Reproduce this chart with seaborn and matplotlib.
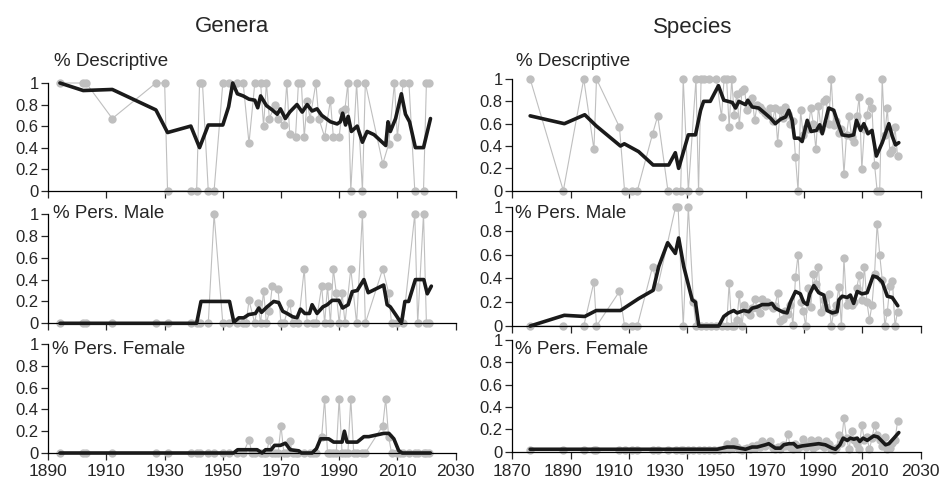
import numpy as np
import matplotlib
matplotlib.use("Agg")
import matplotlib.pyplot as plt
import seaborn as sns

# ---- Genera: % Descriptive ----
gen_desc_years = [1894, 1902, 1903, 1912, 1927, 1930, 1931, 1939, 1941, 1942, 1943, 1945, 1947,
                  1950, 1952, 1955, 1957, 1959, 1961, 1963, 1964, 1965, 1966, 1968, 1969, 1971,
                  1972, 1973, 1975, 1976, 1977, 1978, 1979, 1980, 1982, 1983, 1985, 1987, 1988,
                  1990, 1991, 1992, 1993, 1994, 1996, 1998, 1999, 2005, 2007, 2009, 2010, 2012,
                  2014, 2016, 2019, 2020, 2021]
gen_desc_vals = [1, 1, 1, 0.67, 1, 1, 0, 0, 0, 1, 1, 0, 0,
                 1, 1, 1, 1, 0.44, 1, 1, 0.6, 1, 0.67, 0.8, 0.67, 0.61,
                 1, 0.53, 0.5, 1, 1, 0.5, 0.83, 0.67, 1, 0.67, 0.5, 0.84, 0.5,
                 0.5, 0.74, 0.76, 1, 0, 1, 0, 1, 0.25, 0.43, 1, 0.5, 1,
                 1, 0, 0, 1, 1]
gen_desc_avg_years = [1894, 1902, 1912, 1927, 1931, 1939, 1942, 1945, 1950, 1952, 1953.4, 1955,
                      1957, 1959, 1961, 1962, 1963, 1965, 1967, 1968.7, 1969.8, 1971.5, 1973,
                      1975.5, 1977.3, 1979, 1980.7, 1982.4, 1984, 1987, 1989.3, 1990.4, 1991.2,
                      1992.2, 1993.1, 1994.2, 1996.2, 1998, 1999.6, 2002, 2006, 2006.8, 2007.6,
                      2009.4, 2011.4, 2012.8, 2014.2, 2016.2, 2019, 2021.4]
gen_desc_avg = [1.0, 0.93, 0.94, 0.75, 0.54, 0.6, 0.4, 0.61, 0.61, 0.78, 1.0, 0.9,
                0.88, 0.85, 0.84, 0.77, 0.88, 0.79, 0.75, 0.71, 0.76, 0.67, 0.73,
                0.8, 0.73, 0.8, 0.74, 0.76, 0.7, 0.64, 0.62, 0.64, 0.72,
                0.61, 0.69, 0.55, 0.6, 0.45, 0.55, 0.52, 0.42, 0.64, 0.55,
                0.67, 0.9, 0.71, 0.64, 0.4, 0.4, 0.67]

# ---- Genera: % Pers. Male ----
gen_male_years = [1894, 1902, 1903, 1912, 1927, 1931, 1939, 1941, 1942, 1945, 1947, 1950, 1952,
                  1955, 1957, 1958, 1959, 1961, 1962, 1963, 1964, 1965, 1966, 1967, 1969, 1970,
                  1971, 1973, 1974, 1976, 1978, 1979, 1981, 1982, 1984, 1985, 1986, 1987, 1988,
                  1989, 1990, 1991, 1992, 1994, 1996, 1998, 1999, 2005, 2007, 2008, 2010, 2012,
                  2016, 2017, 2019, 2020, 2021]
gen_male_vals = [0, 0, 0, 0, 0, 0, 0, 0, 0, 0, 1, 0, 0,
                 0, 0, 0, 0.21, 0, 0.19, 0, 0.3, 0, 0.11, 0.34, 0.31, 0,
                 0, 0.19, 0, 0, 0.5, 0, 0, 0, 0.34, 0, 0.34, 0, 0.5,
                 0.28, 0, 0.28, 0, 0.5, 0, 1, 0, 0.5, 0.28, 0, 0, 0,
                 1, 0, 1, 0, 0]
gen_male_avg_years = [1894, 1941, 1942.5, 1952.3, 1953.8, 1955.5, 1957.2, 1958.9, 1961.2, 1962.4,
                      1963.3, 1965.2, 1967.5, 1969.2, 1970.6, 1972.1, 1974, 1975.5, 1976.7,
                      1978.2, 1979.8, 1980.7, 1982.4, 1984.4, 1985.9, 1987.6, 1989.9, 1991.2,
                      1993.1, 1994.5, 1996.2, 1998.5, 2000, 2005.3, 2006.5, 2007.6, 2009.4,
                      2011.4, 2012.6, 2013.9, 2016.2, 2019.1, 2020.3, 2021.7]
gen_male_avg = [0, 0, 0.2, 0.2, 0.01, 0.05, 0.05, 0.08, 0.09, 0.14,
                0.1, 0.15, 0.2, 0.19, 0.11, 0.09, 0.06, 0.05, 0.13,
                0.09, 0.09, 0.17, 0.09, 0.15, 0.17, 0.21, 0.21, 0.14,
                0.17, 0.29, 0.3, 0.4, 0.28, 0.35, 0.17, 0.15, 0.08,
                0.0, 0.2, 0.2, 0.4, 0.4, 0.27, 0.34]

# ---- Genera: % Pers. Female ----
gen_fem_years = [1894, 1902, 1903, 1912, 1927, 1931, 1939, 1941, 1942, 1945, 1947, 1950, 1952,
                 1955, 1957, 1959, 1960, 1961, 1963, 1964, 1965, 1966, 1967, 1968, 1969, 1970,
                 1971, 1972, 1973, 1974, 1975, 1976, 1978, 1980, 1981, 1982, 1984, 1985, 1986,
                 1987, 1988, 1989, 1990, 1991, 1992, 1993, 1994, 1995, 1996, 1998, 1999, 2005,
                 2006, 2007, 2008, 2010, 2011, 2012, 2014, 2016, 2017, 2019, 2020, 2021]
gen_fem_vals = [0, 0, 0, 0, 0, 0, 0, 0, 0, 0, 0, 0, 0,
                0, 0, 0.12, 0, 0, 0, 0, 0, 0.12, 0, 0, 0, 0.25,
                0, 0, 0.11, 0, 0, 0, 0, 0, 0, 0, 0.15, 0.5, 0,
                0, 0, 0, 0.5, 0, 0, 0, 0.5, 0, 0, 0, 0, 0.25,
                0.5, 0.15, 0, 0, 0, 0, 0, 0, 0, 0, 0, 0]
gen_fem_avg_years = [1894, 1953.7, 1955.1, 1958.9, 1961.8, 1963.5, 1964.7, 1966.6, 1967.8, 1969.8,
                     1971.5, 1973.2, 1976.1, 1977, 1980.7, 1982.2, 1983.6, 1986.4, 1988.1, 1991,
                     1991.8, 1992.7, 1996.2, 1998.5, 2000.2, 2005.3, 2007.1, 2008.8, 2010.5,
                     2011.7, 2021.4]
gen_fem_avg = [0, 0, 0.03, 0.03, 0.03, 0, 0.03, 0.03, 0.07, 0.07,
               0.09, 0.03, 0.02, 0, 0, 0.04, 0.13, 0.13, 0.1, 0.1,
               0.2, 0.1, 0.1, 0.15, 0.15, 0.18, 0.18, 0.13, 0.02,
               0, 0]

# ---- Species: % Descriptive ----
sp_desc_years = [1877, 1890, 1898, 1902, 1903, 1912, 1914, 1917, 1919, 1925, 1927, 1931, 1934,
                 1936, 1937, 1939, 1942, 1943, 1944, 1945, 1947, 1950, 1952, 1953, 1954, 1955,
                 1956, 1957, 1958, 1959, 1960, 1961, 1962, 1963, 1964, 1965, 1966, 1967, 1968,
                 1969, 1970, 1971, 1972, 1973, 1974, 1975, 1976, 1977, 1978, 1979, 1980, 1981,
                 1982, 1983, 1984, 1985, 1986, 1987, 1988, 1989, 1990, 1991, 1992, 1993, 1994,
                 1995, 1996, 1997, 1998, 1999, 2000, 2001, 2002, 2003, 2004, 2005, 2006, 2007,
                 2008, 2009, 2010, 2011, 2012, 2013, 2014, 2015, 2016, 2017, 2018, 2019, 2020,
                 2021]
sp_desc_vals = [1, 0, 1, 0.37, 1, 0.57, 0, 0, 0, 0.51, 0.67, 0, 0,
                0, 1, 0, 1, 0, 1, 1, 1, 1, 0.66, 1, 1, 0.57,
                1, 0.68, 0.87, 0.59, 0.89, 0.91, 0.72, 0.79, 0.83, 0.63, 0.77, 0.75, 0.72,
                0.7, 0.68, 0.74, 0.62, 0.74, 0.43, 0.72, 0.65, 0.75, 0.69, 0.6, 0.62, 0.3,
                0, 0.72, 0.5, 0.56, 0.55, 0.74, 0.6, 0.37, 0.76, 0.55, 0.8, 0.82, 0.6,
                1, 0.59, 0.62, 0.52, 0.55, 0.15, 0.5, 0.67, 0.48, 0.44, 0.67, 0.84, 0.19,
                0.55, 0.68, 0.8, 0.74, 0.23, 0, 0, 1, 0.5, 0.74, 0.34, 0.36, 0.57,
                0.31]
sp_desc_avg_years = [1877, 1890.4, 1898.4, 1902.9, 1912.4, 1913.9, 1919.5, 1925.2, 1931.3, 1933.9,
                     1935.2, 1939, 1941.8, 1943.8, 1945, 1947.6, 1950.8, 1952.9, 1956.2, 1957.5,
                     1958.8, 1961.4, 1962.3, 1964, 1966.6, 1969.2, 1971.2, 1973.1, 1975.1,
                     1977.1, 1978.4, 1979.7, 1980.6, 1982.3, 1983.6, 1985.6, 1987.1, 1989.2,
                     1990.5, 1991.5, 1994, 1996, 1997.3, 1999.3, 2001.9, 2003.8, 2004.9, 2006.5,
                     2007.8, 2009.4, 2011, 2012.7, 2015, 2017.6, 2018.9, 2020.2, 2021.5]
sp_desc_avg = [0.67, 0.6, 0.68, 0.58, 0.4, 0.42, 0.35, 0.23, 0.23, 0.34,
               0.2, 0.5, 0.5, 0.72, 0.8, 0.8, 0.94, 0.81, 0.79, 0.74,
               0.8, 0.77, 0.81, 0.75, 0.74, 0.69, 0.65, 0.6, 0.64,
               0.66, 0.72, 0.63, 0.47, 0.47, 0.44, 0.63, 0.53, 0.54,
               0.59, 0.51, 0.74, 0.72, 0.63, 0.5, 0.49, 0.5, 0.63, 0.54,
               0.6, 0.51, 0.54, 0.31, 0.43, 0.6, 0.49, 0.41, 0.43]

# ---- Species: % Pers. Male ----
sp_male_years = [1877, 1890, 1898, 1902, 1903, 1912, 1914, 1917, 1919, 1925, 1927, 1934, 1935,
                 1937, 1939, 1941, 1942, 1944, 1946, 1948, 1950, 1952, 1954, 1955, 1956, 1957,
                 1958, 1959, 1960, 1961, 1962, 1963, 1964, 1965, 1966, 1967, 1968, 1969, 1970,
                 1971, 1972, 1973, 1974, 1975, 1976, 1977, 1978, 1979, 1980, 1981, 1982, 1983,
                 1984, 1985, 1986, 1987, 1988, 1989, 1990, 1991, 1992, 1993, 1994, 1995, 1996,
                 1997, 1998, 1999, 2000, 2001, 2002, 2003, 2004, 2005, 2006, 2007, 2008, 2009,
                 2010, 2011, 2012, 2013, 2014, 2015, 2016, 2017, 2018, 2019, 2020, 2021]
sp_male_vals = [0, 0, 0, 0.37, 0, 0.29, 0, 0, 0, 0.5, 0.33, 1, 1,
                0, 1, 0.2, 0, 0, 0, 0, 0, 0, 0, 0.36, 0, 0,
                0.05, 0.27, 0, 0.18, 0.12, 0.09, 0.15, 0.23, 0.15, 0.11, 0.23, 0.17, 0.2,
                0.18, 0.15, 0.17, 0.28, 0.04, 0.06, 0.13, 0.1, 0.18, 0.01, 0.41, 0.6, 0.2,
                0.13, 0, 0.32, 0.16, 0.44, 0.35, 0.5, 0.12, 0.22, 0.16, 0.27, 0, 0.12,
                0.18, 0.33, 0, 0.57, 0.18, 0.22, 0.18, 0.2, 0.32, 0.43, 0.22, 0.5, 0.2,
                0.05, 0.18, 0.44, 0.86, 0.6, 0.39, 0, 0.12, 0.34, 0.38, 0, 0.12]
sp_male_avg_years = [1877, 1890.4, 1898.4, 1902.9, 1912.4, 1919.5, 1925.2, 1927.4, 1930.9, 1933.9,
                     1935.2, 1937.2, 1940.5, 1941.8, 1943.1, 1950.9, 1952.9, 1954.8, 1956.8,
                     1958.1, 1960.7, 1962.7, 1964, 1966, 1967.9, 1970.5, 1971.8, 1973.1,
                     1975.8, 1977.7, 1979, 1981, 1982.9, 1984.2, 1985.6, 1986.6, 1988.2,
                     1990.1, 1992.1, 1993.4, 1995.4, 1997.3, 1998, 1999.3, 2001.3, 2002.5,
                     2003.8, 2005.2, 2007.1, 2009.1, 2011.4, 2013, 2015, 2017, 2018.9, 2021.1]
sp_male_avg = [0, 0.09, 0.08, 0.13, 0.13, 0.23, 0.3, 0.5, 0.7, 0.61,
               0.74, 0.5, 0.22, 0.2, 0, 0, 0.08, 0.11, 0.13,
               0.11, 0.13, 0.12, 0.15, 0.16, 0.18, 0.18, 0.19, 0.15,
               0.12, 0.11, 0.2, 0.29, 0.27, 0.2, 0.18, 0.27, 0.34,
               0.28, 0.26, 0.13, 0.11, 0.12, 0.22, 0.25, 0.24, 0.26,
               0.19, 0.29, 0.27, 0.28, 0.42, 0.41, 0.37, 0.25, 0.24, 0.17]

# ---- Species: % Pers. Female ----
sp_fem_years = [1877, 1890, 1898, 1902, 1903, 1912, 1914, 1917, 1919, 1925, 1927, 1931, 1934,
                1936, 1937, 1939, 1941, 1943, 1945, 1947, 1949, 1951, 1953, 1954, 1955, 1956,
                1957, 1958, 1959, 1960, 1961, 1962, 1963, 1964, 1965, 1966, 1967, 1968, 1969,
                1970, 1971, 1972, 1973, 1974, 1975, 1976, 1977, 1978, 1979, 1980, 1981, 1982,
                1983, 1984, 1985, 1986, 1987, 1988, 1989, 1990, 1991, 1992, 1993, 1994, 1995,
                1996, 1997, 1998, 1999, 2000, 2001, 2002, 2003, 2004, 2005, 2006, 2007, 2008,
                2009, 2010, 2011, 2012, 2013, 2014, 2015, 2016, 2017, 2018, 2019, 2020, 2021]
sp_fem_vals = [0.01, 0.01, 0.01, 0.01, 0.01, 0.01, 0.01, 0.01, 0.01, 0.01, 0.01, 0.01, 0.01,
               0.01, 0.01, 0.01, 0.01, 0.01, 0.01, 0.01, 0.01, 0.01, 0.02, 0.07, 0.02, 0.03,
               0.09, 0.04, 0.02, 0.01, 0.02, 0.03, 0.02, 0.05, 0.03, 0.06, 0.04, 0.09, 0.05,
               0.07, 0.09, 0.03, 0.02, 0.04, 0.02, 0.06, 0.05, 0.16, 0.04, 0.02, 0.07, 0.03,
               0.05, 0.11, 0.04, 0.06, 0.1, 0.03, 0.05, 0.1, 0.06, 0.04, 0.09, 0.07, 0.02,
               0.01, 0.03, 0.15, 0.08, 0.3, 0.12, 0.02, 0.18, 0.1, 0.07, 0.02, 0.24, 0.1,
               0.13, 0.02, 0.12, 0.24, 0.15, 0.1, 0.05, 0.13, 0.02, 0.03, 0.08, 0.1, 0.27]
sp_fem_avg_years = [1877, 1950.3, 1954.2, 1956.8, 1961.4, 1964, 1966, 1969.2, 1970.5, 1973.1,
                    1975.1, 1976.4, 1978.4, 1980.3, 1981.7, 1983.6, 1986.9, 1990.1, 1992.7,
                    1995.4, 1996.7, 1998.4, 1999.7, 2001.3, 2002.5, 2003.9, 2005.2, 2006.2,
                    2007.5, 2009.1, 2011.7, 2013.3, 2016.3, 2017.6, 2019.6, 2021.5]
sp_fem_avg = [0.02, 0.02, 0.04, 0.04, 0.02, 0.04, 0.04, 0.06, 0.07, 0.03,
              0.03, 0.06, 0.07, 0.07, 0.04, 0.05, 0.06, 0.07, 0.06,
              0.03, 0.02, 0.06, 0.12, 0.1, 0.12, 0.11, 0.12, 0.09,
              0.12, 0.1, 0.14, 0.13, 0.06, 0.07, 0.12, 0.17]

W, H = 940, 482
GRAY = "#bfbfbf"
BLACK = "#1a1a1a"

sns.set_style("ticks")
plt.rcParams["font.family"] = ["Liberation Sans", "DejaVu Sans"]


def rect(x0, x1, ytop, ybot):
    # pixel box -> figure fraction
    return [x0 / W, 1 - ybot / H, (x1 - x0) / W, (ybot - ytop) / H]


def panel(fig, box, years, vals, avg_years, avg_vals, species, bottom):
    ax = fig.add_axes(box)
    sns.lineplot(x=years, y=vals, ax=ax, color=GRAY, lw=0.8, marker="o", markersize=6,
                 markeredgewidth=0, estimator=None, errorbar=None, clip_on=False, zorder=2)
    sns.lineplot(x=avg_years, y=avg_vals, ax=ax, color=BLACK, lw=2.6, estimator=None,
                 errorbar=None, clip_on=False, zorder=3)
    ax.set_ylim(0, 1)
    ax.set_yticks([0, 0.2, 0.4, 0.6, 0.8, 1])
    ax.set_yticklabels(["0", "0.2", "0.4", "0.6", "0.8", "1"])
    ax.tick_params(axis="y", direction="out", length=5, width=0.9, pad=2, labelsize=12)
    if species:
        ax.set_xlim(1870, 2030)
        ax.set_xticks(range(1870, 2031, 20))
        ax.set_xticks(np.linspace(1870, 2030, 8), minor=True)
        ax.xaxis.remove_overlapping_locs = False
        ax.tick_params(axis="x", which="major", length=0, pad=9, labelsize=12.5)
        ax.tick_params(axis="x", which="minor", direction="out", length=5, width=0.9)
    else:
        ax.set_xlim(1890, 2030)
        ax.set_xticks(range(1890, 2031, 20))
        ax.tick_params(axis="x", direction="out", length=5, width=0.9, pad=3, labelsize=12.5)
    if not bottom:
        ax.set_xticklabels([])
    for s in ["top", "right"]:
        ax.spines[s].set_visible(False)
    for s in ["left", "bottom"]:
        ax.spines[s].set_linewidth(0.9)
        ax.spines[s].set_color("black")
    ax.set_xlabel("")
    ax.set_ylabel("")
    ax.patch.set_alpha(0)
    return ax


fig = plt.figure(figsize=(W / 100, H / 100), dpi=100)

panel(fig, rect(48.3, 455.5, 83, 190.7), gen_desc_years, gen_desc_vals,
      gen_desc_avg_years, gen_desc_avg, False, False)
panel(fig, rect(48.3, 455.5, 214, 323.3), gen_male_years, gen_male_vals,
      gen_male_avg_years, gen_male_avg, False, False)
panel(fig, rect(48.3, 455.5, 344, 453), gen_fem_years, gen_fem_vals,
      gen_fem_avg_years, gen_fem_avg, False, True)
panel(fig, rect(512.3, 920.5, 79, 190.7), sp_desc_years, sp_desc_vals,
      sp_desc_avg_years, sp_desc_avg, True, False)
panel(fig, rect(512.3, 920.5, 207, 326), sp_male_years, sp_male_vals,
      sp_male_avg_years, sp_male_avg, True, False)
panel(fig, rect(512.3, 920.5, 340, 451.5), sp_fem_years, sp_fem_vals,
      sp_fem_avg_years, sp_fem_avg, True, True)

fig.text(232 / W, 1 - 27 / H, "Genera", ha="center", va="center", fontsize=16)
fig.text(693 / W, 1 - 27 / H, "Species", ha="center", va="center", fontsize=16)

labels = [(54, 62, "% Descriptive"), (516, 62, "% Descriptive"),
          (53, 214, "% Pers. Male"), (515, 213, "% Pers. Male"),
          (52, 349, "% Pers. Female"), (515, 349, "% Pers. Female")]
for x, y, t in labels:
    fig.text(x / W, 1 - y / H, t, ha="left", va="center", fontsize=13.5)

fig.savefig("out.png", dpi=100)
